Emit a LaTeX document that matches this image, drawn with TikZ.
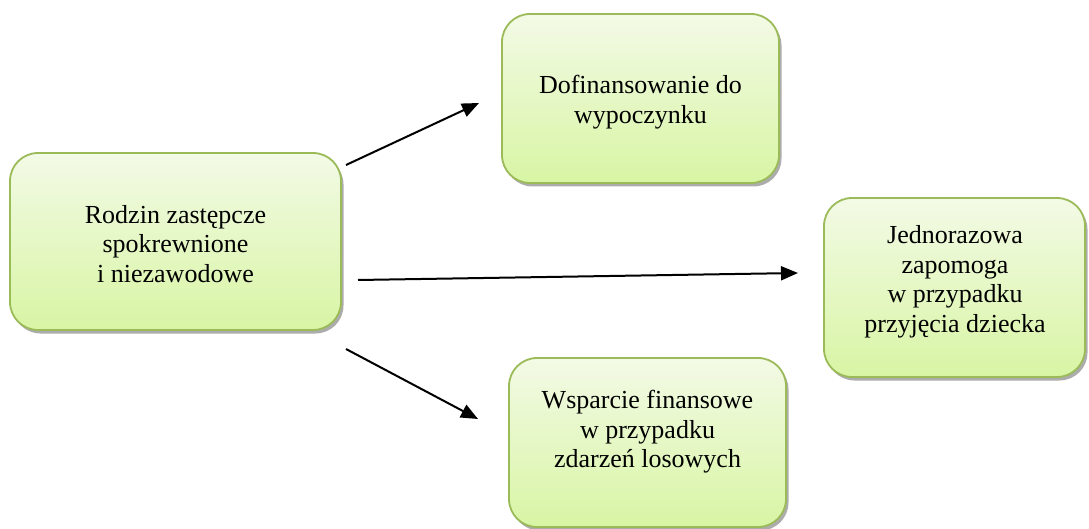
\documentclass[tikz,border=0pt]{standalone}
\usepackage{fontspec}
\setmainfont{Liberation Serif}
\usetikzlibrary{shadows,arrows.meta}
\definecolor{boxtop}{HTML}{F3FAE6}
\definecolor{boxbot}{HTML}{D8F5A4}
\definecolor{boxline}{HTML}{9BBB59}
\tikzset{
  greenbox/.style={draw=boxline, line width=1.8pt, rounded corners=28pt,
    top color=boxtop, bottom color=boxbot, inner sep=0pt,
    drop shadow={shadow xshift=2.5pt, shadow yshift=-3.5pt, fill=black!50, opacity=0.65}},
  boxtext/.style={align=center, font=\fontsize{26pt}{29.5pt}\selectfont, inner sep=0pt},
  conn/.style={line width=2pt, -{Triangle[length=17pt,width=14pt]}}
}
\begin{document}
\begin{tikzpicture}[x=1pt,y=-1pt]
\useasboundingbox (0,0) rectangle (1089,529);
\node[greenbox, minimum width=331pt, minimum height=177pt] (lbox) at (175.5,241.5) {};
\node[greenbox, minimum width=277pt, minimum height=169pt] (tbox) at (640.5,98.5) {};
\node[greenbox, minimum width=261pt, minimum height=179pt] (rbox) at (954.5,287.5) {};
\node[greenbox, minimum width=277pt, minimum height=169pt] (bbox) at (647.5,442.5) {};
\node[boxtext] (ltext) at (175.5,244) {Rodzin zastępcze\\spokrewnione\\i niezawodowe};
\node[boxtext] (ttext) at (640.5,102) {Dofinansowanie do\\wypoczynku};
\node[boxtext] (rtext) at (955,282) {Jednorazowa\\zapomoga\\w przypadku\\przyjęcia dziecka};
\node[boxtext] (btext) at (647.5,432) {Wsparcie finansowe\\w przypadku\\zdarzeń losowych};
\coordinate (s1) at (346,165);
\coordinate (e1) at (479,103);
\coordinate (s2) at (358,280);
\coordinate (e2) at (798,273);
\coordinate (s3) at (346,349);
\coordinate (e3) at (478,419);
\draw[conn] (s1) -- (e1);
\draw[conn] (s2) -- (e2);
\draw[conn] (s3) -- (e3);
\end{tikzpicture}
\end{document}
